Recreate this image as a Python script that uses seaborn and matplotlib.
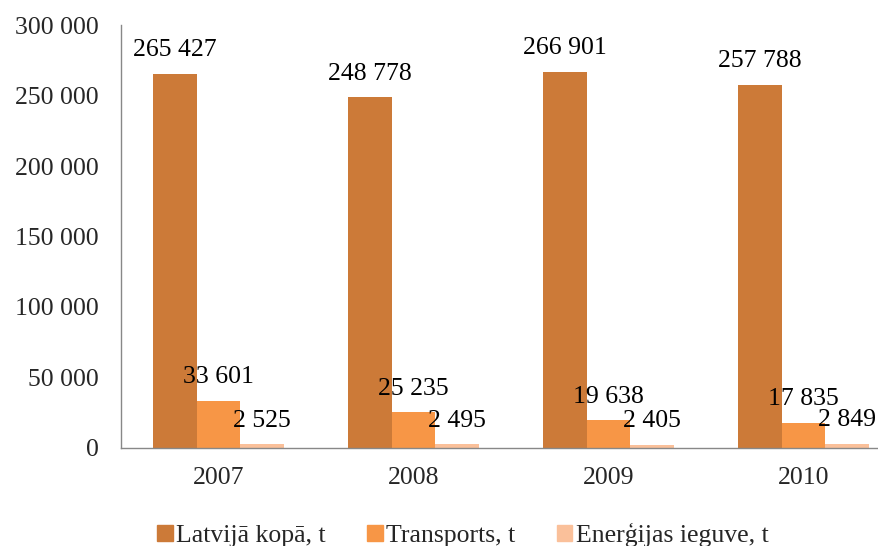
import numpy as np
import pandas as pd
import matplotlib
matplotlib.use('Agg')
import matplotlib.pyplot as plt
import seaborn as sns
from matplotlib.ticker import FuncFormatter, FixedLocator

years = ['2007', '2008', '2009', '2010']
series_names = ['Latvijā kopā, t', 'Transports, t', 'Enerģijas ieguve, t']
latvija = [265427, 248778, 266901, 257788]
transports = [33601, 25235, 19638, 17835]
energija = [2525, 2495, 2405, 2849]
colors = ['#CC7A38', '#F79646', '#FAC09A']

rows = []
for name, vals in zip(series_names, [latvija, transports, energija]):
    for y, v in zip(years, vals):
        rows.append({'year': y, 'series': name, 'value': v})
df = pd.DataFrame(rows)

sns.set_style('white')
plt.rcParams['font.family'] = ['Liberation Serif', 'DejaVu Serif']


def fmt_num(v):
    return f"{int(round(v)):,}".replace(',', ' ')


fig = plt.figure(figsize=(8.79, 5.46), dpi=100)
ax = fig.add_axes([121 / 879, 0.1795, 780 / 879, 0.7747])

sns.barplot(data=df, x='year', y='value', hue='series', order=years,
            hue_order=series_names, palette=colors, width=0.667,
            linewidth=0, saturation=1, errorbar=None, ax=ax)

for cont, vals in zip(ax.containers, [latvija, transports, energija]):
    ax.bar_label(cont, labels=[fmt_num(v) for v in vals], padding=9,
                 fontsize=18.5, color='black')

ax.set_ylim(0, 300000)
ax.set_yticks(np.arange(0, 300001, 50000))
ax.yaxis.set_major_formatter(FuncFormatter(lambda v, p: fmt_num(v)))
ax.set_xlim(-0.5, 3.5)
ax.xaxis.set_minor_locator(FixedLocator([0.5, 1.5, 2.5]))
ax.tick_params(axis='x', which='major', length=0, labelsize=18.5, pad=14)
ax.tick_params(axis='x', which='minor', length=6, color='#888888', width=1)
ax.tick_params(axis='y', length=6, color='#888888', width=1, labelsize=18.5, pad=10)
ax.set_xlabel('')
ax.set_ylabel('')

for s in ['top', 'right']:
    ax.spines[s].set_visible(False)
for s in ['left', 'bottom']:
    ax.spines[s].set_color('#888888')
    ax.spines[s].set_linewidth(1)

ax.legend_.remove()
handles = [plt.Rectangle((0, 0), 1, 1, color=c) for c in colors]
fig.legend(handles, series_names, loc='center', bbox_to_anchor=(463 / 879, 0.02),
           ncol=3, frameon=False, fontsize=18.5, handlelength=0.6, handleheight=0.6,
           handletextpad=0.15, columnspacing=1.6)

fig.savefig('out.png', dpi=100)
